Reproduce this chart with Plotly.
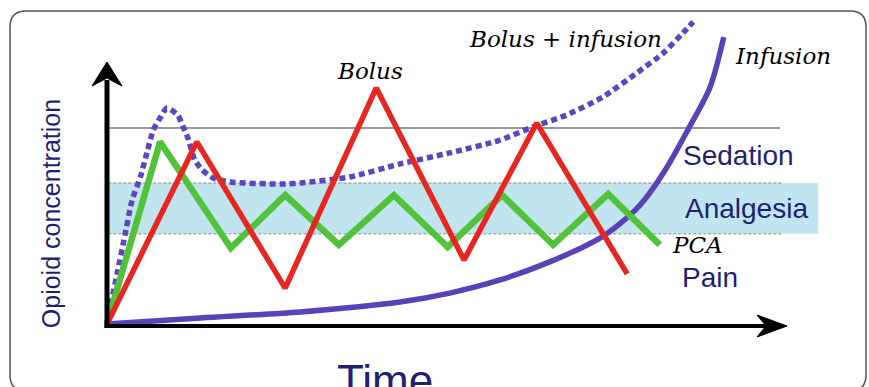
import plotly.graph_objects as go

# ---------------- data (time units 0-100, concentration units 0-100) ----------------
bolus_t = [0, 13.2, 26.2, 39.6, 52.5, 63.2, 76.5]
bolus_c = [0, 69.5, 13.7, 90.1, 24.4, 76.7, 19.1]

pca_t = [0, 7.8, 18.2, 26.2, 34.1, 42.2, 50.1, 58.1, 65.6, 73.7, 81.3]
pca_c = [0, 69.5, 29.0, 49.2, 30.2, 49.2, 29.4, 49.2, 30.2, 49.6, 30.2]

infusion_t = [0, 13.7, 28.4, 43.1, 50.4, 57.8, 65.1, 72.5, 75.4, 78.4, 82.1, 85.4, 88.7, 90.7]
infusion_c = [0, 2.3, 4.6, 8.4, 11.8, 16.8, 23.7, 32.8, 38.2, 45.4, 58.8, 74.0, 90.5, 109.5]

bolus_inf_t = [0, 0.7, 1.6, 2.5, 3.7, 4.9, 5.9, 6.8, 7.8, 8.8, 10.4, 11.2, 11.9, 12.9, 14.0, 15.6,
               18.1, 25.4, 28.4, 35.7, 43.1, 50.4, 57.8, 62.6, 67.6, 72.9, 77.9, 81.8, 84.7, 86.2]
bolus_inf_c = [0, 9.2, 20.6, 32.1, 47.3, 56.1, 65.6, 74.0, 78.6, 82.4, 79.8, 75.2, 71.0, 62.6, 58.8, 55.7,
               54.2, 53.4, 53.8, 56.1, 61.1, 65.3, 70.2, 75.2, 79.8, 86.6, 95.8, 103.4, 111.1, 115.3]

sedation_level = 74.8
analgesia_low = 34.4
analgesia_high = 53.8

zone_labels = ["Sedation", "Analgesia", "Pain"]
zone_label_t = [92.9, 94.1, 88.7]
zone_label_c = [64.5, 43.9, 17.9]

curve_labels = ["Bolus", "Bolus + infusion", "Infusion", "PCA"]
curve_label_t = [38.7, 67.4, 99.4, 86.9]
curve_label_c = [96.6, 108.8, 102.3, 30.2]

x_title = "Time"
y_title = "Opioid concentration"

# ---------------- geometry / styling ----------------
W, H = 869, 387
OX, OY = 107, 324          # pixel position of the origin
SX, SY = 6.8, 2.62         # pixels per data unit
x_range = [-OX / SX, (W - OX) / SX]
y_range = [(OY - H) / SY, OY / SY]

NAVY = "#1f1f74"
RED = "#e8251f"
GREEN = "#52c23c"
PURPLE = "#5a41b8"
DOT_PURPLE = "#5b45c2"
BAND = "#c0e5ef"

fig = go.Figure()

# Bolus + infusion (dotted)
fig.add_trace(go.Scatter(x=bolus_inf_t, y=bolus_inf_c, mode="lines",
                         line=dict(color=DOT_PURPLE, width=5.5, dash="6px,4px", shape="spline", smoothing=0.6),
                         hoverinfo="skip"))
# Infusion
fig.add_trace(go.Scatter(x=infusion_t, y=infusion_c, mode="lines",
                         line=dict(color=PURPLE, width=5.5, shape="spline", smoothing=0.8),
                         hoverinfo="skip"))
# PCA
fig.add_trace(go.Scatter(x=pca_t, y=pca_c, mode="lines",
                         line=dict(color=GREEN, width=6.5), hoverinfo="skip"))
# Bolus
fig.add_trace(go.Scatter(x=bolus_t, y=bolus_c, mode="lines",
                         line=dict(color=RED, width=5.5), hoverinfo="skip"))

shapes = []
t_end_lines = 99.3
t_end_band = 104.6
# analgesia band
shapes.append(dict(type="rect", xref="x", yref="y", x0=0.2, x1=t_end_band,
                   y0=analgesia_low, y1=analgesia_high, fillcolor=BAND, line=dict(width=0), layer="below"))
for lvl in (analgesia_low, analgesia_high):
    shapes.append(dict(type="line", xref="x", yref="y", x0=0.2, x1=t_end_lines, y0=lvl, y1=lvl,
                       line=dict(color="#888888", width=1, dash="3px,2px"), layer="below"))
shapes.append(dict(type="line", xref="x", yref="y", x0=0.2, x1=t_end_lines - 0.3,
                   y0=sedation_level, y1=sedation_level,
                   line=dict(color="#777777", width=1.5), layer="below"))

# axes with arrowheads
dx = lambda p: p / SX
dy = lambda p: p / SY
y_tip = 100.0
x_tip = 100.0
x_axis_c = -0.76
shapes.append(dict(type="line", xref="x", yref="y", x0=0, x1=0, y0=x_axis_c - dy(2), y1=y_tip - dy(18),
                   line=dict(color="black", width=5)))
shapes.append(dict(type="path", xref="x", yref="y",
                   path=(f"M {0} {y_tip} L {-dx(15)} {y_tip - dy(24)} L {0} {y_tip - dy(16)} "
                         f"L {dx(15)} {y_tip - dy(24)} Z"),
                   fillcolor="black", line=dict(color="black", width=1)))
shapes.append(dict(type="line", xref="x", yref="y", x0=-dx(2.5), x1=x_tip - dx(20), y0=x_axis_c, y1=x_axis_c,
                   line=dict(color="black", width=4)))
shapes.append(dict(type="path", xref="x", yref="y",
                   path=(f"M {x_tip} {x_axis_c} L {x_tip - dx(30)} {x_axis_c + dy(11)} "
                         f"L {x_tip - dx(21)} {x_axis_c} L {x_tip - dx(30)} {x_axis_c - dy(11)} Z"),
                   fillcolor="black", line=dict(color="black", width=1)))

# rounded border (paper coords)
def pp(px, py):
    return px / W, 1 - py / H
L, T, R, B, r = 10, 11, 866, 391, 16
def seg(cmd, px, py):
    a, b = pp(px, py)
    return f"{cmd} {a:.5f} {b:.5f}"
qx = lambda cx, cy, ex, ey: "Q {:.5f} {:.5f} {:.5f} {:.5f}".format(*pp(cx, cy), *pp(ex, ey))
border = " ".join([
    seg("M", L + r, T), seg("L", R - r, T), qx(R, T, R, T + r),
    seg("L", R, B - r), qx(R, B, R - r, B),
    seg("L", L + r, B), qx(L, B, L, B - r),
    seg("L", L, T + r), qx(L, T, L + r, T), "Z"])
shapes.append(dict(type="path", xref="paper", yref="paper", path=border,
                   line=dict(color="#555555", width=1.5), fillcolor="rgba(0,0,0,0)"))

annotations = []
for txt, t, c in zip(zone_labels, zone_label_t, zone_label_c):
    annotations.append(dict(x=t, y=c, xref="x", yref="y", text=txt, showarrow=False,
                            xanchor="center", yanchor="middle",
                            font=dict(family="Liberation Sans, Arial", size=28, color=NAVY)))
for txt, t, c in zip(curve_labels, curve_label_t, curve_label_c):
    annotations.append(dict(x=t, y=c, xref="x", yref="y", text=txt, showarrow=False,
                            xanchor="center", yanchor="middle",
                            font=dict(family="DejaVu Serif", size=23, color="black", style="italic")))
annotations.append(dict(x=40.9, y=-21.4, xref="x", yref="y", text=x_title, showarrow=False,
                        xanchor="center", yanchor="middle",
                        font=dict(family="Liberation Sans, Arial", size=44, color=NAVY)))
annotations.append(dict(x=-8.2, y=42.0, xref="x", yref="y", text=y_title, showarrow=False,
                        xanchor="center", yanchor="middle", textangle=-90,
                        font=dict(family="Liberation Sans, Arial", size=25, color=NAVY)))

fig.update_layout(
    width=W, height=H,
    margin=dict(l=0, r=0, t=0, b=0),
    paper_bgcolor="white", plot_bgcolor="white",
    showlegend=False,
    xaxis=dict(range=x_range, visible=False, fixedrange=True),
    yaxis=dict(range=y_range, visible=False, fixedrange=True),
    shapes=shapes, annotations=annotations,
)

fig.write_html("out.html", config={"displayModeBar": False},
               post_script="document.body.style.margin='0';document.body.style.overflow='hidden';")
